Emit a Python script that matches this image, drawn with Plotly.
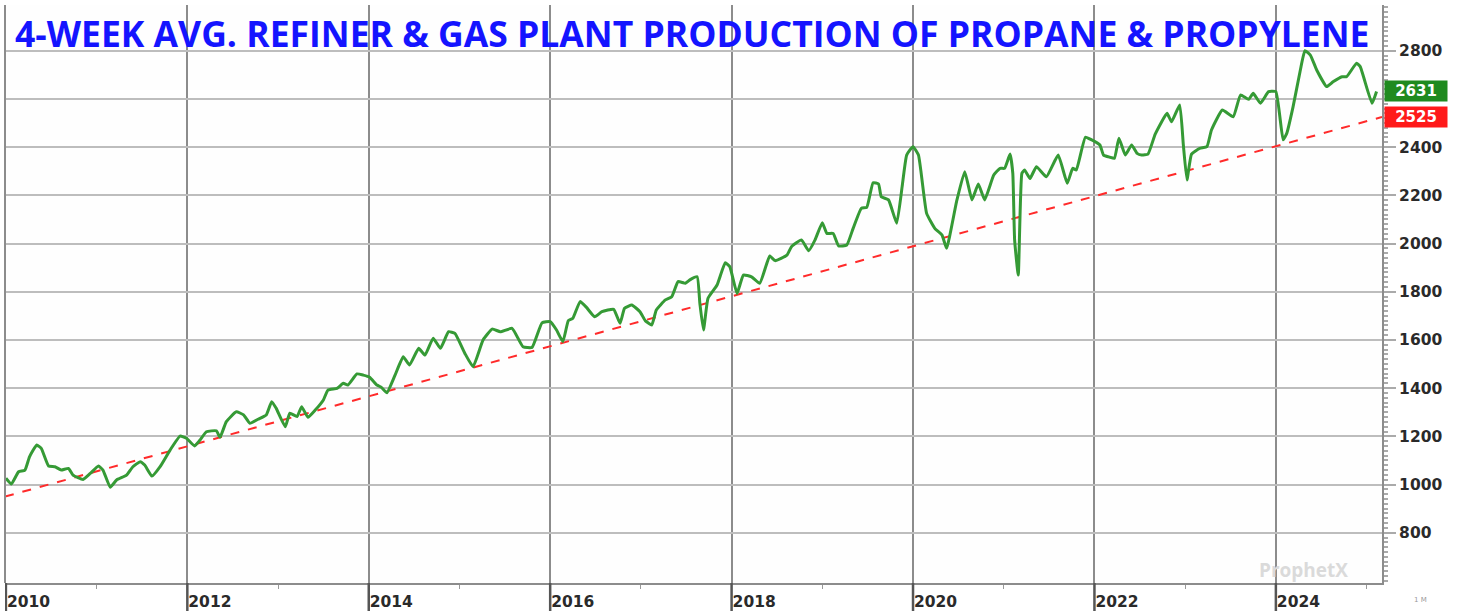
import plotly.graph_objects as go

# ---- data ----
years = [2010.00, 2010.06, 2010.14, 2010.21, 2010.26, 2010.34, 2010.39, 2010.47, 2010.54, 2010.61,
         2010.69, 2010.74, 2010.85, 2010.93, 2011.02, 2011.07, 2011.15, 2011.22, 2011.33, 2011.40,
         2011.48, 2011.53, 2011.61, 2011.70, 2011.81, 2011.92, 2011.99, 2012.08, 2012.14, 2012.21,
         2012.32, 2012.36, 2012.43, 2012.54, 2012.62, 2012.69, 2012.78, 2012.87, 2012.93, 2012.98,
         2013.08, 2013.13, 2013.21, 2013.26, 2013.33, 2013.41, 2013.50, 2013.55, 2013.65, 2013.72,
         2013.77, 2013.87, 2013.94, 2014.01, 2014.09, 2014.14, 2014.20, 2014.29, 2014.38, 2014.45,
         2014.55, 2014.62, 2014.71, 2014.79, 2014.88, 2014.95, 2015.06, 2015.15, 2015.26, 2015.36,
         2015.45, 2015.58, 2015.70, 2015.80, 2015.91, 2016.00, 2016.07, 2016.14, 2016.20, 2016.25,
         2016.33, 2016.40, 2016.49, 2016.57, 2016.70, 2016.77, 2016.82, 2016.90, 2016.99, 2017.05,
         2017.12, 2017.17, 2017.27, 2017.34, 2017.41, 2017.49, 2017.54, 2017.62, 2017.65, 2017.69,
         2017.74, 2017.84, 2017.93, 2017.98, 2018.06, 2018.13, 2018.22, 2018.31, 2018.42, 2018.48,
         2018.61, 2018.66, 2018.77, 2018.85, 2018.92, 2019.00, 2019.05, 2019.12, 2019.18, 2019.27,
         2019.34, 2019.43, 2019.49, 2019.56, 2019.62, 2019.65, 2019.73, 2019.82, 2019.88, 2019.93,
         2020.00, 2020.06, 2020.15, 2020.24, 2020.32, 2020.37, 2020.48, 2020.57, 2020.65, 2020.72,
         2020.79, 2020.89, 2020.96, 2021.01, 2021.07, 2021.10, 2021.12, 2021.16, 2021.20, 2021.23,
         2021.29, 2021.36, 2021.47, 2021.60, 2021.70, 2021.76, 2021.80, 2021.90, 2021.97, 2022.06,
         2022.10, 2022.17, 2022.22, 2022.27, 2022.34, 2022.41, 2022.47, 2022.52, 2022.59, 2022.67,
         2022.80, 2022.85, 2022.94, 2022.98, 2023.02, 2023.07, 2023.16, 2023.24, 2023.29, 2023.41,
         2023.53, 2023.61, 2023.70, 2023.75, 2023.83, 2023.92, 2024.00, 2024.08, 2024.12, 2024.19,
         2024.27, 2024.32, 2024.38, 2024.45, 2024.56, 2024.63, 2024.73, 2024.78, 2024.89, 2024.93,
         2025.06, 2025.11]
production = [1026, 1002, 1053, 1060, 1115, 1164, 1150, 1077, 1074, 1060,
              1067, 1039, 1021, 1046, 1077, 1060, 989, 1019, 1039, 1074,
              1095, 1081, 1035, 1074, 1143, 1201, 1192, 1160, 1185, 1219,
              1223, 1196, 1261, 1302, 1289, 1254, 1271, 1289, 1344, 1316,
              1240, 1296, 1282, 1323, 1279, 1309, 1351, 1392, 1399, 1420,
              1413, 1459, 1454, 1445, 1413, 1403, 1381, 1454, 1530, 1496,
              1565, 1537, 1607, 1565, 1634, 1627, 1544, 1489, 1600, 1645,
              1634, 1648, 1572, 1569, 1671, 1676, 1641, 1593, 1680, 1690,
              1759, 1735, 1696, 1717, 1727, 1669, 1731, 1745, 1717, 1679,
              1662, 1724, 1766, 1779, 1842, 1835, 1849, 1862, 1752, 1641,
              1773, 1828, 1920, 1904, 1793, 1869, 1862, 1835, 1948, 1929,
              1952, 1987, 2015, 1970, 2015, 2086, 2042, 2042, 1990, 1994,
              2063, 2146, 2150, 2252, 2247, 2194, 2181, 2084, 2236, 2367,
              2402, 2367, 2125, 2063, 2035, 1980, 2174, 2298, 2181, 2247,
              2181, 2284, 2312, 2312, 2371, 2291, 2015, 1869, 2291, 2305,
              2270, 2319, 2277, 2367, 2250, 2312, 2305, 2441, 2430, 2409,
              2367, 2358, 2354, 2437, 2367, 2409, 2374, 2367, 2371, 2454,
              2540, 2505, 2575, 2409, 2264, 2371, 2395, 2402, 2471, 2554,
              2526, 2616, 2598, 2623, 2582, 2630, 2630, 2430, 2457, 2568,
              2720, 2800, 2782, 2720, 2651, 2671, 2692, 2692, 2748, 2734,
              2582, 2631]

trend_years = [2009.99, 2025.17]
trend_values = [950, 2525]

last_value = 2631
trend_last = 2525

x_tick_years = [2010, 2012, 2014, 2016, 2018, 2020, 2022, 2024]
x_tick_labels = [str(y) for y in x_tick_years]
x_minor_years = [2011, 2013, 2015, 2017, 2019, 2021, 2023, 2025]
y_tick_vals = [800, 1000, 1200, 1400, 1600, 1800, 2000, 2200, 2400, 2600, 2800]
y_tick_labels = ["800", "1000", "1200", "1400", "1600", "1800", "2000", "2200", "2400", "", "2800"]

title_text = "4-WEEK AVG. REFINER & GAS PLANT PRODUCTION OF PROPANE & PROPYLENE"

fig = go.Figure()

fig.add_trace(go.Scatter(
    x=trend_years, y=trend_values, mode="lines",
    line=dict(color="#ff2a2a", width=2, dash="dash"),
    hoverinfo="skip", showlegend=False))

fig.add_trace(go.Scatter(
    x=years, y=production, mode="lines",
    line=dict(color="#359a35", width=3, shape="spline", smoothing=0.4),
    showlegend=False))

axis_font = dict(family="DejaVu Sans", size=15.5, color="#2a2a2a")

fig.update_layout(
    width=1460, height=611,
    margin=dict(l=5, r=78, t=5, b=28, autoexpand=False),
    paper_bgcolor="white", plot_bgcolor="#fefefe",
    showlegend=False,
    xaxis=dict(
        range=[2009.99, 2025.17], automargin=False,
        tickmode="array", tickvals=x_tick_years, ticktext=[f"<b>{t}</b>" for t in x_tick_labels],
        ticks="", ticklabelposition="outside right", ticklabelstandoff=3,
        tickfont=axis_font,
        showgrid=True, gridcolor="#8c8c8c", gridwidth=1.5,
        showline=True, linecolor="#8c8c8c", linewidth=2,
        zeroline=False,
        minor=dict(tickvals=x_minor_years, ticks="outside", ticklen=4,
                   tickcolor="#999999", showgrid=False),
    ),
    yaxis=dict(
        range=[591.5, 2989.6], side="right", automargin=False,
        tickmode="array", tickvals=y_tick_vals, ticktext=[f"<b>{t}</b>" if t else "" for t in y_tick_labels],
        ticks="outside", ticklen=12, tickcolor="#aaaaaa", tickwidth=1.5,
        tickfont=axis_font,
        showgrid=True, gridcolor="#bdbdbd", gridwidth=1.8,
        showline=True, linecolor="#8c8c8c", linewidth=2,
        zeroline=False,
        minor=dict(dtick=20, ticks="outside", ticklen=4, tickcolor="#aaaaaa", showgrid=False),
    ),
)

# left border
fig.add_shape(type="line", xref="paper", yref="paper", x0=0, x1=0, y0=0, y1=1,
              line=dict(color="#8c8c8c", width=2))
# extended major x ticks below the axis
for yr in x_tick_years:
    fig.add_shape(type="line", xref="x", yref="paper", x0=yr, x1=yr, y0=0, y1=-0.05,
                  line=dict(color="#555555", width=2.5))

# title
fig.add_annotation(x=0.499, y=(583 - 33) / 578, xref="paper", yref="paper", yanchor="middle",
                   text=f"<b>{title_text}</b>", showarrow=False,
                   font=dict(family="Open Sans", size=35.5, color="#1414ff"))

# last-value labels
fig.add_annotation(x=1, xref="paper", y=last_value, yref="y", xanchor="left", yanchor="middle",
                   xshift=2, text=f"<b>{last_value}</b>", showarrow=False,
                   bgcolor="#1f8a1f", width=60, height=18, borderpad=1,
                   font=dict(family="DejaVu Sans", size=15, color="white"))
fig.add_annotation(x=1, xref="paper", y=trend_last, yref="y", xanchor="left", yanchor="middle",
                   xshift=2, text=f"<b>{trend_last}</b>", showarrow=False,
                   bgcolor="#ff1a1a", width=60, height=18, borderpad=1,
                   font=dict(family="DejaVu Sans", size=15, color="white"))

# watermark
fig.add_annotation(x=2024.3, xref="x", y=645, yref="y", text="<b>ProphetX</b>", showarrow=False,
                   font=dict(family="Open Sans", size=19, color="#dadada"))
# tiny period label
fig.add_annotation(x=1, xref="paper", y=-0.03, yref="paper", xanchor="left", yanchor="middle",
                   xshift=30, text="1 M", showarrow=False,
                   font=dict(family="DejaVu Sans", size=7, color="#999999"))

fig.write_html("out.html", config={"displayModeBar": False},
               post_script="document.body.style.margin='0';document.body.style.overflow='hidden';")
